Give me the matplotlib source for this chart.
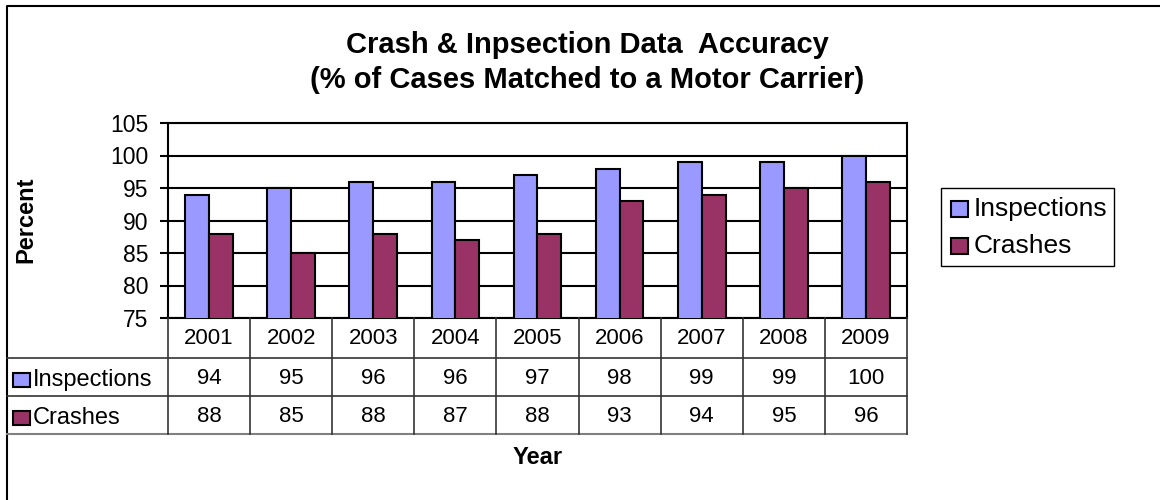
import matplotlib.pyplot as plt
from matplotlib.lines import Line2D
from matplotlib.patches import Rectangle

years = ['2001', '2002', '2003', '2004', '2005', '2006', '2007', '2008', '2009']
inspections = [94, 95, 96, 96, 97, 98, 99, 99, 100]
crashes = [88, 85, 88, 87, 88, 93, 94, 95, 96]
series_names = ['Inspections', 'Crashes']
series_colors = ['#9999FF', '#993366']
y_ticks = [75, 80, 85, 90, 95, 100, 105]

W, H = 1160, 500
plt.rcParams['font.family'] = ['Liberation Sans', 'DejaVu Sans']

fig = plt.figure(figsize=(W / 100, H / 100), dpi=100)


def fx(px):
    return px / W


def fy(py):
    return 1 - py / H


# plot area in pixel terms
left, right, top, bottom = 168, 907, 123, 318
ax = fig.add_axes([fx(left), fy(bottom), fx(right - left), (bottom - top) / H])

x = list(range(len(years)))
bw = 0.29
ax.bar([i - bw / 2 for i in x], inspections, bw, color=series_colors[0],
       edgecolor='black', linewidth=1.5, zorder=3, label=series_names[0])
ax.bar([i + bw / 2 for i in x], crashes, bw, color=series_colors[1],
       edgecolor='black', linewidth=1.5, zorder=3, label=series_names[1])

ax.set_xlim(-0.5, len(years) - 0.5)
ax.set_ylim(75, 105)
ax.set_yticks(y_ticks)
ax.set_xticks([])
ax.tick_params(axis='y', length=6, width=1.5, pad=8, labelsize=16.5)
ax.yaxis.grid(True, color='black', linewidth=1.5, zorder=0)
for s in ax.spines.values():
    s.set_linewidth(1.5)

fig.text(fx(26), fy(220), 'Percent', rotation=90, ha='center', va='center',
         fontsize=17, fontweight='bold')

# title
fig.text(fx(587), fy(45), 'Crash & Inpsection Data  Accuracy', ha='center',
         va='center', fontsize=21, fontweight='bold')
fig.text(fx(587), fy(80), '(% of Cases Matched to a Motor Carrier)', ha='center',
         va='center', fontsize=21, fontweight='bold')

# outer frame
fig.add_artist(Line2D([fx(7), fx(7), fx(1160)], [fy(500), fy(6), fy(6)],
                      color='black', linewidth=1.5))

# data table below the plot
cw = (right - left) / len(years)
rows = [318, 358, 396, 434]
line_kw = dict(color='#333333', linewidth=1.2)
fig.add_artist(Line2D([fx(7), fx(right)], [fy(rows[1])] * 2, **line_kw))
fig.add_artist(Line2D([fx(7), fx(right)], [fy(rows[2])] * 2, **line_kw))
fig.add_artist(Line2D([fx(7), fx(right)], [fy(rows[3])] * 2,
                      color='#808080', linewidth=1.5))
for k in range(len(years) + 1):
    xx = left + k * cw
    fig.add_artist(Line2D([fx(xx)] * 2, [fy(rows[0]), fy(rows[3])], **line_kw))

for i, yr in enumerate(years):
    cx = left + (i + 0.5) * cw
    fig.text(fx(cx), fy(339), yr, ha='center', va='center', fontsize=16)
    fig.text(fx(cx), fy(378), str(inspections[i]), ha='center', va='center', fontsize=16)
    fig.text(fx(cx), fy(416), str(crashes[i]), ha='center', va='center', fontsize=16)

for r, (name, col) in enumerate(zip(series_names, series_colors)):
    cy = 380 + r * 38
    fig.add_artist(Rectangle((fx(13), fy(cy + 7)), fx(17), 14 / H,
                             facecolor=col, edgecolor='black', linewidth=1.5))
    fig.text(fx(33), fy(cy), name, ha='left', va='center', fontsize=17)

fig.text(fx(538), fy(458), 'Year', ha='center', va='center', fontsize=17,
         fontweight='bold')

# legend box, drawn by hand so its size and spacing can be set in pixels
fig.add_artist(Rectangle((fx(941), fy(266)), fx(173), 78 / H, facecolor='white',
                         edgecolor='black', linewidth=1.0))
for r, (name, col) in enumerate(zip(series_names, series_colors)):
    cy = 209 + r * 37
    fig.add_artist(Rectangle((fx(951), fy(cy + 8)), fx(17), 16 / H,
                             facecolor=col, edgecolor='black', linewidth=1.5))
    fig.text(fx(974), fy(cy), name, ha='left', va='center', fontsize=19)

fig.savefig('out.png', dpi=100)
